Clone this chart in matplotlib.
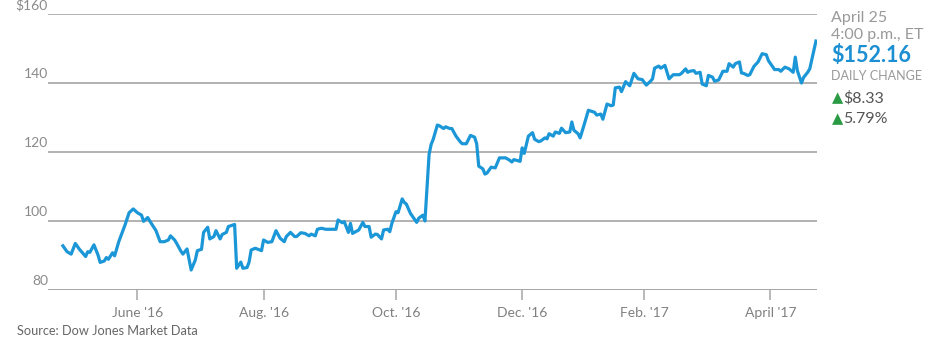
import matplotlib
matplotlib.use("Agg")
import matplotlib.pyplot as plt
import matplotlib.transforms as mtransforms
import pandas as pd

# Daily close (day = days after 2016-04-26)
start = pd.Timestamp("2016-04-26")
days = [0, 2, 4, 6, 8, 11, 12, 13, 15, 17, 18, 20, 21, 22, 24, 25, 27, 30, 32, 34,
        36, 38, 39, 41, 42, 44, 45, 47, 49, 51, 52, 54, 55, 57, 58, 60, 62, 64, 65, 67,
        68, 70, 71, 73, 74, 76, 77, 79, 80, 83, 84, 86, 87, 89, 90, 91, 93, 96, 97, 99,
        101, 103, 105, 107, 108, 110, 112, 113, 115, 117, 119, 120, 122, 123, 125, 127, 132, 133, 135, 136,
        138, 139, 140, 143, 145, 146, 148, 149, 151, 152, 154, 155, 157, 158, 159, 161, 162, 164, 165, 166,
        168, 171, 172, 174, 175, 177, 178, 179, 181, 182, 184, 185, 187, 188, 190, 192, 193, 195, 197, 199,
        200, 201, 203, 204, 205, 207, 209, 211, 214, 216, 217, 218, 221, 222, 223, 225, 227, 228, 230, 231,
        233, 234, 235, 237, 238, 240, 241, 243, 245, 246, 247, 249, 250, 252, 254, 257, 258, 260, 261, 263,
        265, 266, 267, 269, 270, 272, 274, 276, 278, 280, 282, 284, 285, 286, 288, 289, 291, 292, 293, 295,
        298, 299, 301, 302, 303, 305, 306, 308, 309, 311, 312, 314, 315, 317, 319, 321, 322, 324, 325, 327,
        328, 329, 331, 332, 334, 336, 338, 340, 341, 344, 346, 347, 349, 351, 353, 354, 355, 357, 358, 360,
        361, 364]
prices = [92.8, 91.1, 90.4, 93.5, 91.8, 89.7, 91.1, 90.9, 93.1, 90.1, 88.0, 88.4, 89.4, 88.9, 90.8, 89.9, 94.0, 98.8, 102.4, 103.5,
          102.4, 101.7, 99.9, 101.0, 100.0, 98.1, 97.2, 94.0, 94.0, 94.5, 95.7, 94.5, 93.5, 91.3, 90.4, 91.9, 85.8, 88.7, 91.4, 91.8,
          96.7, 98.2, 94.8, 95.5, 97.2, 94.8, 96.1, 96.7, 98.4, 99.0, 86.3, 88.1, 86.3, 86.5, 88.1, 91.6, 92.1, 91.4, 94.5, 93.8,
          94.0, 97.2, 95.0, 94.0, 95.5, 96.7, 95.5, 95.5, 96.6, 96.4, 95.7, 96.2, 95.7, 97.6, 97.9, 97.6, 97.6, 100.3, 99.5, 99.8,
          96.7, 99.3, 96.4, 97.4, 99.6, 98.4, 98.4, 95.3, 96.2, 96.1, 94.8, 97.4, 97.6, 96.9, 99.3, 102.7, 102.4, 106.4, 105.4, 104.9,
          102.2, 99.6, 100.8, 101.7, 100.0, 119.3, 122.2, 123.7, 127.8, 127.6, 126.8, 127.3, 126.8, 126.8, 124.6, 123.0, 122.4, 122.4, 124.8, 124.3,
          122.4, 115.9, 115.1, 113.6, 113.9, 115.6, 115.4, 118.3, 118.3, 117.6, 117.1, 117.8, 117.3, 121.2, 119.6, 124.6, 125.6, 123.7, 123.0, 123.2,
          124.1, 123.8, 125.3, 124.6, 125.8, 125.4, 126.9, 125.6, 125.8, 128.7, 126.3, 125.3, 124.1, 128.0, 132.1, 131.5, 130.7, 131.0, 129.5, 133.9,
          133.4, 133.6, 138.6, 138.8, 137.5, 140.4, 139.2, 142.8, 141.2, 141.0, 139.4, 140.5, 141.2, 144.3, 144.9, 144.3, 145.1, 143.1, 141.2, 142.4,
          142.4, 142.8, 144.1, 143.1, 143.4, 143.6, 142.8, 143.1, 139.7, 139.2, 142.2, 141.7, 140.5, 140.9, 143.4, 143.4, 145.6, 144.6, 145.6, 146.1,
          142.9, 142.8, 142.2, 142.4, 144.8, 146.1, 148.5, 148.2, 146.5, 143.9, 143.9, 143.4, 144.6, 144.1, 143.1, 147.5, 143.6, 140.0, 141.6, 143.1,
          144.1, 152.16]

dates = [start + pd.Timedelta(days=d) for d in days]

yticks = [80, 100, 120, 140, 160]
ylabels = ["80", "100", "120", "140", "$160"]
xticks = ["2016-06-01", "2016-08-01", "2016-10-04", "2016-12-04", "2017-02-01", "2017-04-03"]
xlabels = ["June '16", "Aug. '16", "Oct. '16", "Dec. '16", "Feb. '17", "April '17"]

plt.rcParams['font.family'] = ['Lato', 'DejaVu Sans']

fig = plt.figure(figsize=(9.32, 3.40), dpi=100)
ax = fig.add_axes([48 / 932, 50 / 340, 769 / 932, 276 / 340])

ax.plot(dates, prices, color='#1b97d8', lw=2.3, solid_joinstyle='round', zorder=3)

ax.set_ylim(80, 160)
ax.set_xlim(start - pd.Timedelta(days=7.2), start + pd.Timedelta(days=364.5))

for v in yticks[1:]:
    ax.axhline(v, color='#a6a6a6', lw=1.2, zorder=1)
ax.axhline(80, color='#a6a6a6', lw=1.4, zorder=1)

for s in ax.spines.values():
    s.set_visible(False)
ax.set_yticks([])
ax.set_xticks(pd.to_datetime(xticks))
ax.set_xticklabels(xlabels)
ax.tick_params(axis='x', length=7, width=1.1, color='#a6a6a6', pad=5,
               labelsize=10, labelcolor='#808080')

ytr = ax.get_yaxis_transform()
off = mtransforms.offset_copy(ytr, fig=fig, x=0, y=2, units='points')
for v, lab in zip(yticks, ylabels):
    ax.text(0, v, lab, transform=off, ha='right', va='bottom',
            fontsize=10, color='#8a8a8a')

# right-hand panel
x0 = 831 / 932
def fy(py):
    return 1 - py / 340

fig.text(x0, fy(18), "April 25", fontsize=11.5, color='#999999', va='center')
fig.text(x0, fy(35), "4:00 p.m., ET", fontsize=11.5, color='#999999', va='center')
fig.text(x0, fy(55), "$152.16", fontsize=15.5, color='#1b8fd2', fontweight='bold', va='center')
fig.text(x0, fy(76), "DAILY CHANGE", fontsize=9, color='#999999', va='center')
fig.text(832 / 932, fy(98), "\u25b2", fontsize=10.5, color='#2a9a45', va='center', family=['DejaVu Sans'])
fig.text(843 / 932, fy(98), "$8.33", fontsize=11.5, color='#555555', va='center')
fig.text(832 / 932, fy(119), "\u25b2", fontsize=10.5, color='#2a9a45', va='center', family=['DejaVu Sans'])
fig.text(843 / 932, fy(119), "5.79%", fontsize=11.5, color='#555555', va='center')

fig.text(17 / 932, fy(331), "Source: Dow Jones Market Data", fontsize=9.2, color='#666666', va='center')

fig.savefig("out.png", dpi=100)
